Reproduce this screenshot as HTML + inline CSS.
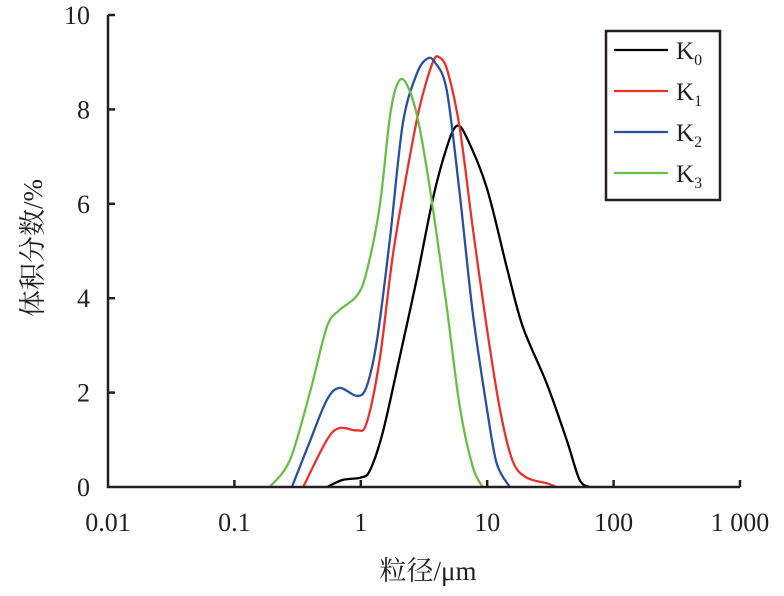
<!DOCTYPE html>
<html><head><meta charset="utf-8"><style>
body{margin:0;background:#fff}
svg text{font-family:"Liberation Serif","Noto Serif CJK SC",serif;fill:#231f20}
</style></head><body>
<svg width="784" height="591" xmlns="http://www.w3.org/2000/svg">
<g id="plot"></g>
</svg>
<script>
const xTicks=[0.01,0.1,1,10,100,1000];
const xTickLabels=["0.01","0.1","1","10","100","1 000"];
const yTicks=[0,2,4,6,8,10];
const seriesNames=["K0","K1","K2","K3"];
const seriesColors=["#000000","#e8312a","#2a4fa0","#6cbd45"];
const k0Size=[0.54,0.72,1.0,1.18,1.49,2.03,2.77,3.71,4.79,5.74,6.89,9.9,14.3,19.1,29.5,42.5,53.8,64.6];
const k0Val=[0,0.15,0.2,0.35,1.15,2.75,4.4,6.1,7.2,7.65,7.4,6.35,4.65,3.4,2.2,1.0,0.15,0];
const k1Size=[0.35,0.54,0.68,0.93,1.11,1.41,1.79,2.31,2.92,3.71,4.21,4.87,6.07,7.68,9.9,12.6,15.9,20.5,29.5,35.4];
const k1Val=[0,1.0,1.25,1.2,1.35,2.7,4.9,6.65,8.05,9.0,9.1,8.8,7.6,5.5,3.4,1.65,0.55,0.2,0.08,0];
const k2Size=[0.285,0.40,0.54,0.68,0.93,1.11,1.34,1.69,2.15,2.77,3.33,3.85,4.79,6.07,7.68,9.9,11.9,15.1];
const k2Val=[0,1.0,1.85,2.1,1.93,2.12,3.1,5.2,7.7,8.75,9.07,9.0,8.4,6.2,3.7,1.7,0.5,0];
const k3Size=[0.19,0.275,0.40,0.54,0.68,0.93,1.11,1.41,1.69,1.92,2.23,2.77,3.51,4.79,6.07,7.68,9.2];
const k3Val=[0,0.57,2.05,3.4,3.75,4.05,4.55,5.95,7.8,8.5,8.6,7.9,6.35,3.8,1.7,0.43,0];
const sizes=[k0Size,k1Size,k2Size,k3Size], vals=[k0Val,k1Val,k2Val,k3Val];

const L=108,R=740,T=15,B=487;
const xs=v=>L+(Math.log10(v)+2)/5*(R-L);
const ys=v=>B-v/10*(B-T);
const NS="http://www.w3.org/2000/svg";
const g=document.getElementById('plot');
function mk(tag,attrs,parent){const e=document.createElementNS(NS,tag);for(const k in attrs)e.setAttribute(k,attrs[k]);(parent||g).appendChild(e);return e;}
function smooth(pts){
  const t=0.16;let d='M'+pts[0][0].toFixed(1)+','+pts[0][1].toFixed(1);
  for(let i=0;i<pts.length-1;i++){
    const p0=pts[Math.max(0,i-1)],p1=pts[i],p2=pts[i+1],p3=pts[Math.min(pts.length-1,i+2)];
    const c1x=p1[0]+(p2[0]-p0[0])*t,c1y=Math.min(B,p1[1]+(p2[1]-p0[1])*t);
    const c2x=p2[0]-(p3[0]-p1[0])*t,c2y=Math.min(B,p2[1]-(p3[1]-p1[1])*t);
    d+=` C${c1x.toFixed(1)},${c1y.toFixed(1)} ${c2x.toFixed(1)},${c2y.toFixed(1)} ${p2[0].toFixed(1)},${p2[1].toFixed(1)}`;
  }
  return d;
}

sizes.forEach((s,i)=>{
  const pts=s.map((v,j)=>[xs(v),ys(vals[i][j])]);
  const p=mk('path',{d:smooth(pts),fill:'none',stroke:seriesColors[i],'stroke-width':2.3,'stroke-linejoin':'round'});
  
  
});

const ax=mk('path',{d:`M${L},${T} L${L},${B} L${R},${B}`,fill:'none',stroke:'#231f20','stroke-width':2.5});



xTicks.forEach((v,i)=>{
  const x=xs(v);
  if(i>0){const t=mk('line',{x1:x,x2:x,y1:B,y2:B-7,stroke:'#231f20','stroke-width':2.5});
  
  }
  const tx=mk('text',{x:x,y:531,'font-size':26,'text-anchor':'middle'});
  tx.textContent=xTickLabels[i];
  
  
});
yTicks.forEach(v=>{
  const y=ys(v);
  if(v>0){const t=mk('line',{x1:L,x2:L+7,y1:y,y2:y,stroke:'#231f20','stroke-width':2.5});
  
  }
  const tx=mk('text',{x:90,y:y+9,'font-size':26,'text-anchor':'end'});
  tx.textContent=String(v);
  
  
});

const xt=mk('text',{x:428,y:580,'font-size':27,'text-anchor':'middle'});
xt.textContent='粒径/μm';


const yt=mk('text',{x:0,y:0,'font-size':27,'text-anchor':'middle',transform:'translate(42,248) rotate(-90)'});
yt.textContent='体积分数/%';



const lg=mk('g',{});


mk('rect',{x:606,y:31,width:114,height:169,fill:'#fff',stroke:'#231f20','stroke-width':2.5},lg);
seriesNames.forEach((n,i)=>{
  const y=50+i*41;
  const e=mk('g',{},lg);
  
  
  mk('line',{x1:614,x2:668,y1:y,y2:y,stroke:seriesColors[i],'stroke-width':2.3},e);
  const t=mk('text',{x:676,y:y+9,'font-size':25},e);
  t.textContent='K';
  const sub=mk('tspan',{'font-size':16,dy:6},t);
  sub.textContent=n.slice(1);
});
</script>
</body></html>
